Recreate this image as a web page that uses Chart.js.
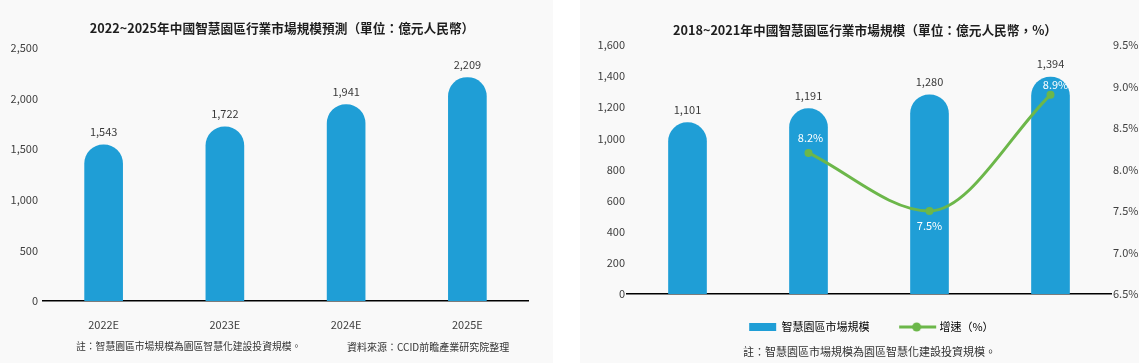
<!DOCTYPE html>
<html>
<head>
<meta charset="utf-8">
<script src="https://cdn.jsdelivr.net/npm/chart.js@4"></script>
<style>
  body { margin: 0; background: #ffffff; width: 1139px; height: 363px; position: relative; overflow: hidden; font-family: 'Noto Sans CJK TC', 'Noto Sans', sans-serif; }
  .panel { position: absolute; top: 0; height: 363px; background: #f9f9f9; }
  #left { left: 0; width: 553px; }
  #right { left: 580px; width: 559px; }
  .note { position: absolute; color: #333; white-space: nowrap; line-height: 1; }
</style>
</head>
<body>
<div class="panel" id="left">
  <canvas id="chartLeft" width="553" height="363"></canvas>
  <div class="note" style="left:76px; top:342px; font-size:9.8px;">註：智慧園區市場規模為園區智慧化建設投資規模。</div>
  <div class="note" style="left:347px; top:342px; font-size:10px;">資料來源：CCID前瞻產業研究院整理</div>
</div>
<div class="panel" id="right">
  <canvas id="chartRight" width="559" height="363"></canvas>
  <div class="note" style="left:163px; top:346px; font-size:11px;">註：智慧園區市場規模為園區智慧化建設投資規模。</div>
</div>
<script>
// data
const forecastYears = ['2022E', '2023E', '2024E', '2025E'];
const forecastSize = [1543, 1722, 1941, 2209];

const histYears = ['2018年', '2019年', '2020年', '2021年'];
const histSize = [1101, 1191, 1280, 1394];
const histGrowth = [null, 8.2, 7.5, 8.9];

const titleLeft = '2022~2025年中國智慧園區行業市場規模預測（單位：億元人民幣）';
const titleRight = '2018~2021年中國智慧園區行業市場規模（單位：億元人民幣，%）';
const legendNames = ['智慧園區市場規模', '增速（%）'];

const fontFamily = "'Noto Sans CJK TC', 'Noto Sans', sans-serif";
const barBlue = '#1f9ed6';
const green = '#6cb74a';
const tickColor = '#404040';

Chart.defaults.font.family = fontFamily;
Chart.defaults.color = tickColor;
Chart.defaults.animation = false;

// labels on top of the bars and next to the line points
const valueLabels = {
  id: 'valueLabels',
  afterDatasetsDraw(chart, args, opts) {
    const ctx = chart.ctx;
    ctx.save();
    ctx.textAlign = 'center';
    ctx.textBaseline = 'middle';
    chart.data.datasets.forEach(function (ds, i) {
      const meta = chart.getDatasetMeta(i);
      meta.data.forEach(function (el, j) {
        const v = ds.data[j];
        if (v == null) return;
        if (meta.type === 'bar') {
          ctx.font = '11px ' + fontFamily;
          ctx.fillStyle = '#3a3a3a';
          ctx.fillText(v.toLocaleString('en-US'), el.x, el.y - 13);
        } else {
          const off = opts.lineOffsets[j];
          ctx.font = '11px ' + fontFamily;
          ctx.fillStyle = '#ffffff';
          ctx.fillText(v.toFixed(1) + '%', el.x + off[0], el.y + off[1]);
        }
      });
    });
    ctx.restore();
  }
};

// legend swatches, drawn centred on the legend box
function swatch(kind) {
  const c = document.createElement('canvas');
  const g = c.getContext('2d');
  if (kind === 'bar') {
    c.width = 42; c.height = 10;
    g.fillStyle = barBlue;
    g.fillRect(14, 1, 27, 8);
  } else {
    c.width = 46; c.height = 10;
    g.strokeStyle = green;
    g.lineWidth = 3;
    g.beginPath();
    g.moveTo(8, 5);
    g.lineTo(45, 5);
    g.stroke();
    g.fillStyle = green;
    g.beginPath();
    g.arc(25.5, 5, 4.5, 0, Math.PI * 2);
    g.fill();
  }
  return c;
}

function fmtComma(v) {
  return Number(v).toLocaleString('en-US');
}

// left chart: forecast
new Chart(document.getElementById('chartLeft'), {
  type: 'bar',
  data: {
    labels: forecastYears,
    datasets: [{
      data: forecastSize,
      backgroundColor: barBlue,
      barThickness: 38,
      borderRadius: { topLeft: 19, topRight: 19, bottomLeft: 0, bottomRight: 0 },
      borderSkipped: 'bottom'
    }]
  },
  options: {
    responsive: false,
    layout: { padding: { left: 11, right: 0, top: 0, bottom: 0 } },
    plugins: {
      legend: { display: false },
      tooltip: { enabled: false },
      title: {
        display: true,
        text: titleLeft,
        color: '#1e1e1e',
        font: { size: 12.7, weight: 'bold' },
        padding: { top: 20.2, bottom: 12.6 }
      },
      valueLabels: {}
    },
    scales: {
      x: {
        grid: { display: false, drawTicks: false },
        border: { display: true, color: '#000000', width: 1.5 },
        ticks: { padding: 17.5, font: { size: 11 }, color: tickColor },
        afterFit: function (scale) { scale.height = 62; }
      },
      y: {
        min: 0,
        max: 2500,
        grid: { display: false, drawTicks: false },
        border: { display: false },
        ticks: { stepSize: 500, padding: 5, font: { size: 11 }, color: tickColor, callback: fmtComma },
        afterFit: function (scale) { scale.width = 32; }
      },
      spacer: {
        position: 'right',
        grid: { display: false, drawTicks: false },
        border: { display: false },
        ticks: { display: false },
        afterFit: function (scale) { scale.width = 25; }
      }
    }
  },
  plugins: [valueLabels]
});

// right chart: history + growth
new Chart(document.getElementById('chartRight'), {
  type: 'bar',
  data: {
    labels: histYears,
    datasets: [{
      type: 'bar',
      label: legendNames[0],
      data: histSize,
      backgroundColor: barBlue,
      barThickness: 38,
      borderRadius: { topLeft: 19, topRight: 19, bottomLeft: 0, bottomRight: 0 },
      borderSkipped: 'bottom',
      yAxisID: 'y',
      order: 2
    }, {
      type: 'line',
      label: legendNames[1],
      data: histGrowth,
      borderColor: green,
      backgroundColor: green,
      borderWidth: 3,
      pointRadius: 4,
      pointBackgroundColor: green,
      pointBorderWidth: 0,
      cubicInterpolationMode: 'monotone',
      yAxisID: 'y1',
      order: 1
    }]
  },
  options: {
    responsive: false,
    layout: { padding: { left: 11, right: 0, top: 0, bottom: 20.5 } },
    plugins: {
      tooltip: { enabled: false },
      title: {
        display: true,
        text: titleRight,
        color: '#1e1e1e',
        font: { size: 12.7, weight: 'bold' },
        padding: { top: 22.2, bottom: 7.6 }
      },
      legend: {
        position: 'bottom',
        labels: {
          usePointStyle: true,
          pointStyleWidth: 39.5,
          padding: 25,
          color: '#333333',
          font: { size: 11 },
          generateLabels: function (chart) {
            return chart.data.datasets.map(function (ds, i) {
              return {
                text: ds.label,
                pointStyle: swatch(ds.type),
                fillStyle: 'transparent',
                strokeStyle: 'transparent',
                lineWidth: 0,
                hidden: false,
                datasetIndex: i
              };
            });
          }
        }
      },
      valueLabels: { lineOffsets: [[0, 0], [2, -15], [0, 15], [5, -10]] }
    },
    scales: {
      x: {
        grid: { display: false, drawTicks: false },
        border: { display: true, color: '#000000', width: 1.5 },
        ticks: { padding: 3.5, font: { size: 11 }, color: tickColor },
        afterFit: function (scale) { scale.height = 2.5; }
      },
      y: {
        position: 'left',
        min: 0,
        max: 1600,
        grid: { display: false, drawTicks: false },
        border: { display: false },
        ticks: { stepSize: 200, padding: 2, font: { size: 11 }, color: tickColor, callback: fmtComma },
        afterFit: function (scale) { scale.width = 36; }
      },
      y1: {
        position: 'right',
        min: 6.5,
        max: 9.5,
        grid: { display: false, drawTicks: false },
        border: { display: false },
        ticks: { stepSize: 0.5, padding: 2, font: { size: 11 }, color: tickColor,
          callback: function (v) { return Number(v).toFixed(1) + '%'; } },
        afterFit: function (scale) { scale.width = 28; }
      }
    }
  },
  plugins: [valueLabels]
});
</script>
</body>
</html>
